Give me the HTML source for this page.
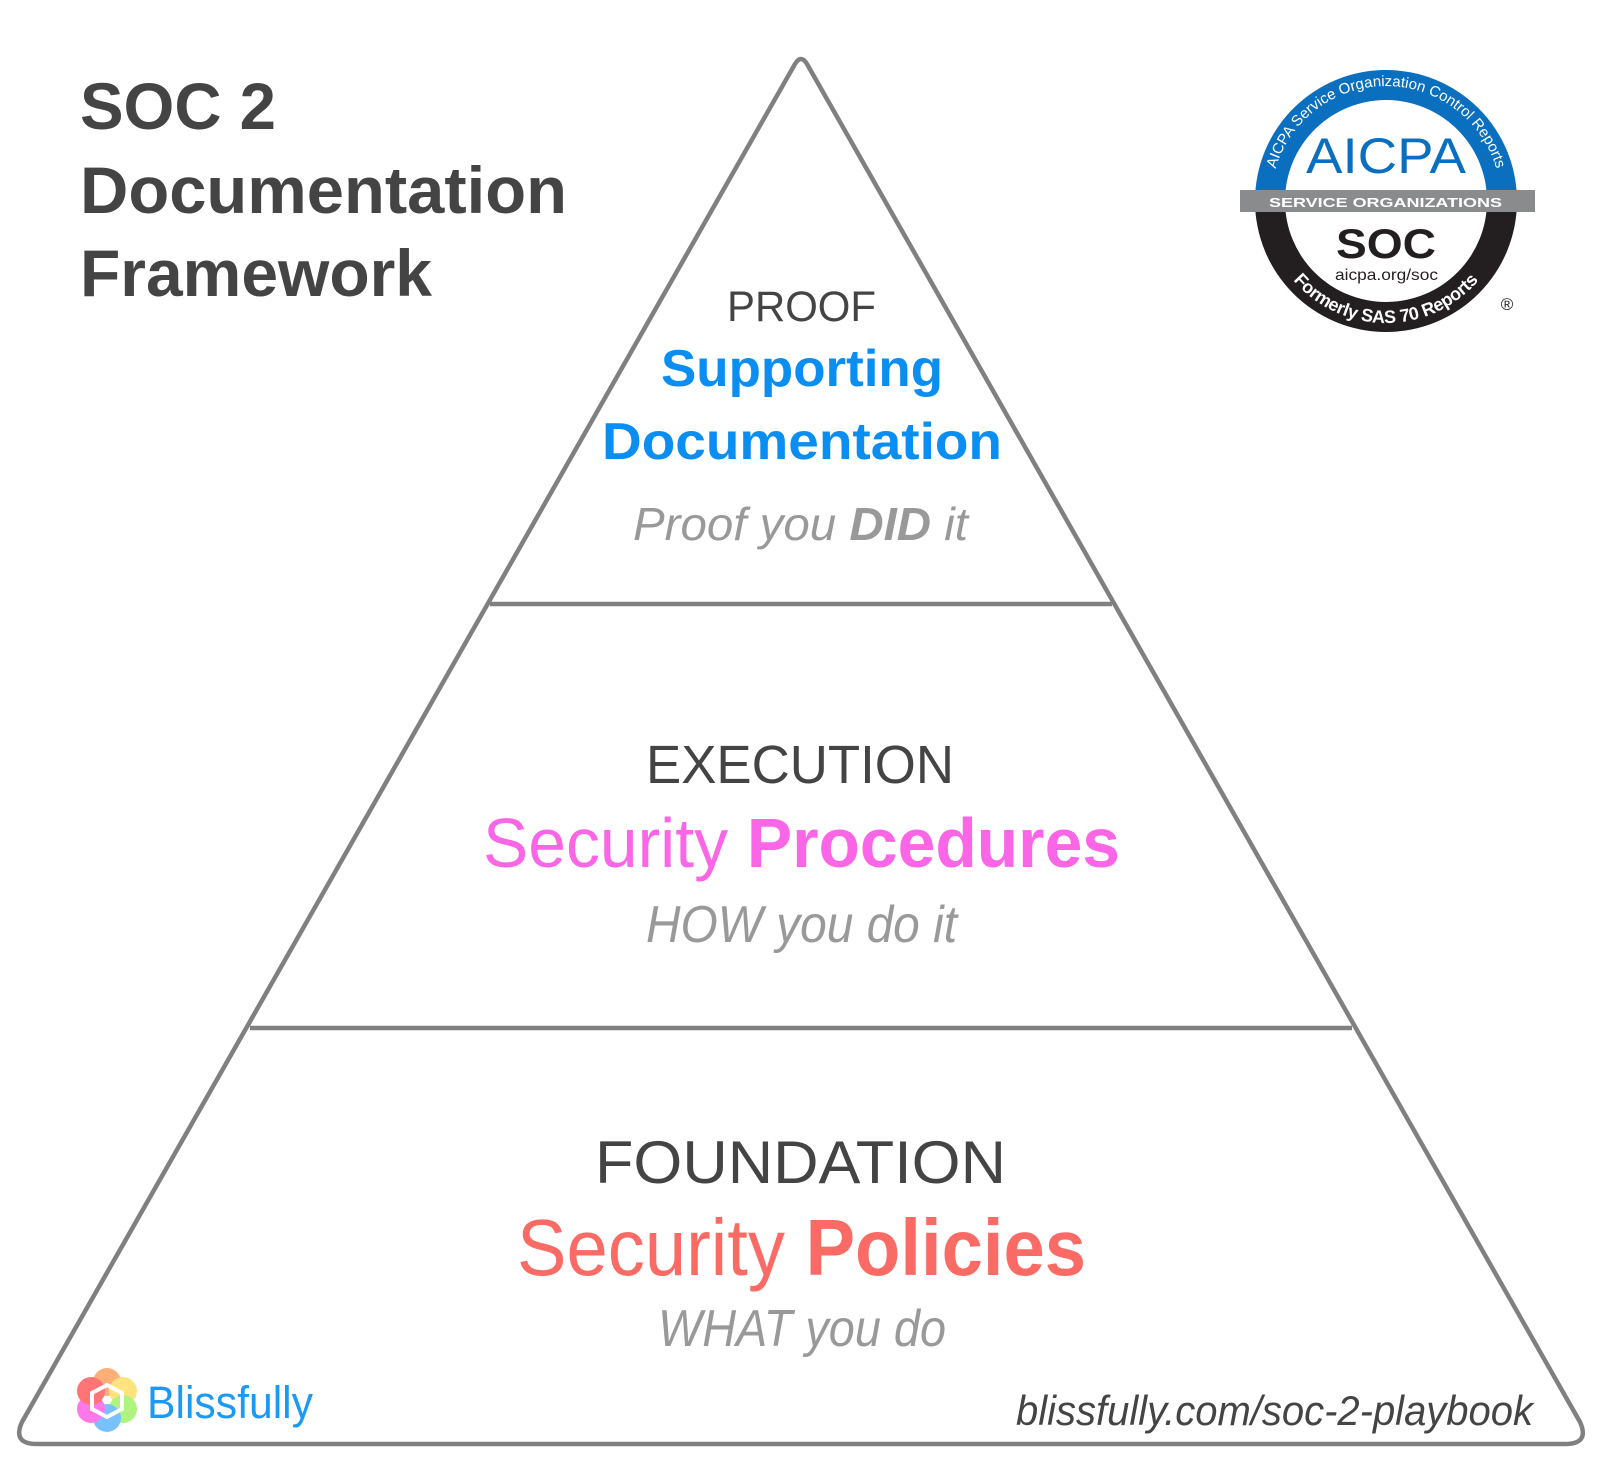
<!DOCTYPE html>
<html><head><meta charset="utf-8"><style>
html,body{margin:0;padding:0;background:#fff;}
svg{display:block;}
text{font-family:"Liberation Sans",sans-serif;}
</style></head><body>
<svg width="1600" height="1467" viewBox="0 0 1600 1467" xmlns="http://www.w3.org/2000/svg">
<rect width="1600" height="1467" fill="#fff"/>
<!-- pyramid -->
<path d="M795 64 Q801 54 807 64 L1580 1422 Q1590 1444 1565 1444 L37 1444 Q12 1444 22 1422 Z" fill="none" stroke="#808080" stroke-width="4.5" stroke-linejoin="round"/>
<line x1="490" y1="604" x2="1112" y2="604" stroke="#808080" stroke-width="4.5"/>
<line x1="250" y1="1028" x2="1352" y2="1028" stroke="#808080" stroke-width="4.5"/>

<!-- title -->
<g fill="#444" font-weight="bold" font-size="66">
<text x="80" y="129" textLength="196" lengthAdjust="spacingAndGlyphs">SOC 2</text>
<text x="80" y="213" textLength="487" lengthAdjust="spacingAndGlyphs">Documentation</text>
<text x="80" y="296" textLength="352" lengthAdjust="spacingAndGlyphs">Framework</text>
</g>

<!-- proof -->
<text x="727" y="321" font-size="43" fill="#444" textLength="149" lengthAdjust="spacingAndGlyphs">PROOF</text>
<text x="661" y="386" font-size="52" font-weight="bold" fill="#0a8ef2" textLength="282" lengthAdjust="spacingAndGlyphs">Supporting</text>
<text x="602" y="459" font-size="52" font-weight="bold" fill="#0a8ef2" textLength="400" lengthAdjust="spacingAndGlyphs">Documentation</text>
<text x="633" y="540" font-size="46" font-style="italic" fill="#999" textLength="335" lengthAdjust="spacingAndGlyphs">Proof you <tspan font-weight="bold">DID</tspan> it</text>

<!-- execution -->
<text x="646" y="783" font-size="54" fill="#444" textLength="308" lengthAdjust="spacingAndGlyphs">EXECUTION</text>
<text x="483" y="867" font-size="70" fill="#fa66e6" textLength="637" lengthAdjust="spacingAndGlyphs">Security <tspan font-weight="bold">Procedures</tspan></text>
<text x="646" y="942" font-size="52" font-style="italic" fill="#999" textLength="311" lengthAdjust="spacingAndGlyphs">HOW you do it</text>

<!-- foundation -->
<text x="595" y="1183" font-size="60" fill="#444" textLength="411" lengthAdjust="spacingAndGlyphs">FOUNDATION</text>
<text x="517" y="1275" font-size="80" fill="#fa6b66" textLength="569" lengthAdjust="spacingAndGlyphs">Security <tspan font-weight="bold">Policies</tspan></text>
<text x="658" y="1346" font-size="52" font-style="italic" fill="#999" textLength="288" lengthAdjust="spacingAndGlyphs">WHAT you do</text>

<!-- blissfully logo -->
<g opacity="0.7">
<circle cx="107" cy="1382" r="14" fill="#ff8c40"/>
<circle cx="123" cy="1391" r="14" fill="#ffd84a"/>
<circle cx="123" cy="1409" r="14" fill="#8cf04a"/>
<circle cx="107" cy="1418" r="14" fill="#40a8ff"/>
<circle cx="91" cy="1409" r="14" fill="#ff40e0"/>
<circle cx="91" cy="1391" r="14" fill="#ff3a3a"/>
</g>
<polygon points="107,1385 122,1393 122,1409 107,1417 92,1409 92,1393" fill="none" stroke="#fff" stroke-width="4"/>
<text x="147" y="1418" font-size="45" fill="#1a9af5" textLength="166" lengthAdjust="spacingAndGlyphs">Blissfully</text>

<text x="1016" y="1425" font-size="42" font-style="italic" fill="#444" textLength="517" lengthAdjust="spacingAndGlyphs">blissfully.com/soc-2-playbook</text>

<!-- AICPA badge -->
<defs>
<path id="topArc" d="M1271 201 A115 115 0 0 1 1501 201"/>
<path id="botArc" d="M1260 201 A126 126 0 0 0 1512 201"/>
</defs>
<path d="M1255 201 A131 131 0 0 1 1517 201 Z" fill="#0b6fbf"/>
<path d="M1255 201 A131 131 0 0 0 1517 201 Z" fill="#231f20"/>
<circle cx="1386" cy="201" r="101" fill="#fff"/>
<rect x="1240" y="190" width="295" height="22" fill="#8a8b8d"/>
<text font-size="15" fill="#fff"><textPath href="#topArc" startOffset="50%" text-anchor="middle">AICPA Service Organization Control Reports</textPath></text>
<text font-size="18" font-weight="bold" fill="#fff" dy="-4"><textPath href="#botArc" startOffset="50%" text-anchor="middle">Formerly SAS 70 Reports</textPath></text>
<text x="1306" y="173" font-size="50" fill="#0b6fbf" textLength="160" lengthAdjust="spacingAndGlyphs">AICPA</text>
<text x="1269" y="207" font-size="13" font-weight="bold" fill="#fff" textLength="233" lengthAdjust="spacingAndGlyphs">SERVICE ORGANIZATIONS</text>
<text x="1336" y="258" font-size="42" font-weight="bold" fill="#231f20" textLength="100" lengthAdjust="spacingAndGlyphs">SOC</text>
<text x="1335" y="280" font-size="16" fill="#231f20" textLength="103" lengthAdjust="spacingAndGlyphs">aicpa.org/soc</text>
<text x="1507" y="310" font-size="17" fill="#231f20" text-anchor="middle">®</text>
</svg>
</body></html>
